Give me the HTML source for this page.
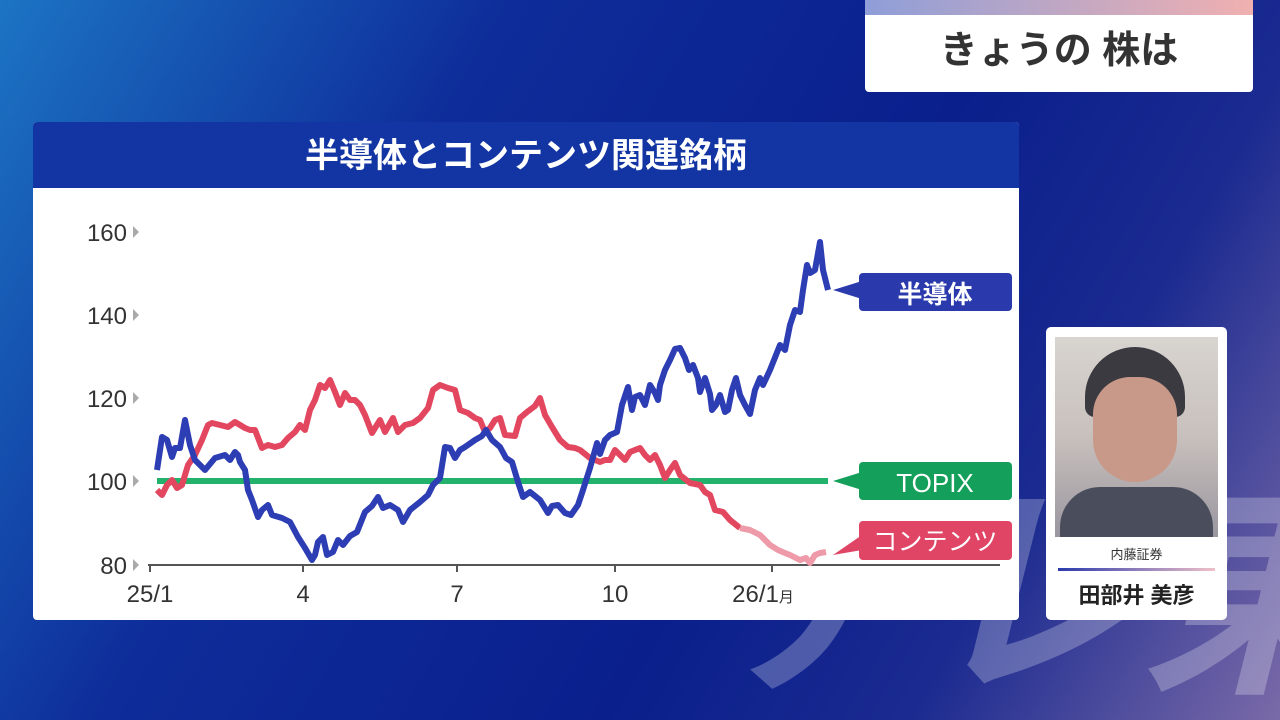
<!DOCTYPE html>
<html><head><meta charset="utf-8"><style>
html,body{margin:0;width:1280px;height:720px;overflow:hidden}
body{position:relative;font-family:"Liberation Sans","Noto Sans CJK JP",sans-serif;
background:linear-gradient(120deg,#1c74c4 0%,#0e2d9a 30%,#0a1f8c 60%,#1a2a90 78%,#7a6aa8 100%);}
.abs{position:absolute}
</style></head><body>
<div class="abs" style="left:700px;top:480px;width:700px;white-space:nowrap;font-size:230px;font-weight:bold;color:rgba(255,255,255,0.25);letter-spacing:-10px;line-height:1;font-style:italic">テレ東</div>
<div class="abs" style="left:865px;top:0;width:388px;height:92px;background:#fff;border-radius:0 0 4px 4px;overflow:hidden">
 <div style="height:15px;background:linear-gradient(90deg,#8e9ed8,#f0b0b0)"></div>
 <div style="text-align:center;font-size:38px;font-weight:bold;color:#333;line-height:72px">きょうの 株は</div>
</div>
<div class="abs" style="left:33px;top:122px;width:986px;height:498px;background:#fff;border-radius:4px;overflow:hidden">
 <div style="height:66px;background:#1235a3;color:#fff;text-align:center;font-size:34px;font-weight:bold;line-height:68px">半導体とコンテンツ関連銘柄</div>
</div>
<svg class="abs" style="left:0;top:0" width="1280" height="720">
 <g font-family="Liberation Sans, sans-serif" font-size="24" fill="#333" text-anchor="end">
  <text x="127" y="241">160</text><text x="127" y="324">140</text><text x="127" y="407">120</text><text x="127" y="490">100</text><text x="127" y="574">80</text>
 </g>
 <g fill="#aaa"><path d="M133,226 l6,6 l-6,6z"/><path d="M133,309 l6,6 l-6,6z"/><path d="M133,392 l6,6 l-6,6z"/><path d="M133,475 l6,6 l-6,6z"/><path d="M133,559 l6,6 l-6,6z"/></g>
 <line x1="148" y1="565" x2="1000" y2="565" stroke="#555" stroke-width="2"/>
 <g stroke="#555" stroke-width="2"><line x1="150" y1="565" x2="150" y2="572"/><line x1="303" y1="565" x2="303" y2="572"/><line x1="457" y1="565" x2="457" y2="572"/><line x1="615" y1="565" x2="615" y2="572"/><line x1="772" y1="565" x2="772" y2="572"/></g>
 <g font-family="Liberation Sans, Noto Sans CJK JP, sans-serif" font-size="24" fill="#333" text-anchor="middle">
  <text x="150" y="602">25/1</text><text x="303" y="602">4</text><text x="457" y="602">7</text><text x="615" y="602">10</text><text x="763" y="602">26/1<tspan font-size="15">月</tspan></text>
 </g>
 <line x1="157" y1="481" x2="828" y2="481" stroke="#23b26b" stroke-width="6"/>
 <polyline fill="none" stroke="#e2475f" stroke-width="6" stroke-linejoin="round" points="157,490 162,495 167,485 172,480 177,488 182,485 188,465 195,455 202,440 208,425 212,423 220,425 228,427 235,422 240,425 245,428 250,430 255,430 262,448 268,445 275,447 282,445 288,438 295,432 300,425 305,430 310,410 315,400 320,385 325,388 330,380 335,392 340,405 345,393 350,400 355,400 360,405 365,415 372,433 380,420 385,432 393,418 398,432 405,425 413,423 420,418 428,408 433,390 440,385 448,388 455,390 460,410 468,413 475,418 480,420 485,432 490,428 495,420 500,418 505,435 515,436 520,418 527,412 535,406 540,398 545,415 552,427 560,440 568,447 575,448 580,450 590,458 600,462 605,460 610,460 615,450 620,455 625,460 630,452 640,448 645,455 650,460 655,455 660,465 665,478 670,470 675,463 680,475 690,483 700,485 705,492 710,495 715,510 723,512 730,520 740,528"/>
 <polyline fill="none" stroke="#ee9aa8" stroke-width="6" stroke-linejoin="round" points="740,528 750,530 760,535 770,545 778,550 785,553 790,555 800,560 806,558 810,563 815,555 820,553 826,552"/>
 <polyline fill="none" stroke="#2d3db3" stroke-width="6" stroke-linejoin="round" points="157,470 162,437 167,440 172,457 175,448 180,448 185,420 190,445 195,460 205,470 215,458 225,455 230,460 235,452 238,455 240,462 245,470 248,490 252,500 258,517 262,510 268,505 272,515 282,518 290,522 298,537 305,548 312,560 315,555 318,542 323,537 327,555 333,552 338,540 343,545 350,536 357,532 365,512 372,506 378,497 383,508 390,505 398,510 403,522 410,510 420,502 428,495 433,485 440,478 445,447 450,448 455,458 460,450 465,447 475,440 482,436 486,430 492,440 500,447 506,458 512,462 518,482 523,497 530,492 535,496 540,500 548,513 552,506 558,505 565,513 571,515 578,505 583,490 590,468 597,443 600,454 605,440 610,435 617,432 622,405 628,387 632,410 635,397 640,395 645,405 650,385 655,393 658,400 660,385 665,370 670,360 675,349 680,348 685,358 689,370 693,365 698,378 700,392 705,378 710,394 712,410 716,405 720,395 725,412 728,410 732,390 736,378 740,395 745,405 750,414 755,390 760,378 763,385 770,370 776,355 780,345 785,350 790,325 795,310 800,312 803,290 807,265 810,273 815,270 820,242 823,270 828,290"/>
 <path d="M833,290 L862,281 L862,299Z" fill="#2a3aad"/>
 <rect x="859" y="273" width="153" height="38" rx="4" fill="#2a3aad"/>
 <text x="935" y="303" fill="#fff" font-size="25" font-weight="bold" text-anchor="middle" font-family="Noto Sans CJK JP, sans-serif">半導体</text>
 <path d="M833,481 L862,472 L862,490Z" fill="#14a05a"/>
 <rect x="859" y="462" width="153" height="38" rx="4" fill="#14a05a"/>
 <text x="935" y="492" fill="#fff" font-size="26" text-anchor="middle" font-family="Liberation Sans, sans-serif">TOPIX</text>
 <path d="M833,555 L862,535 L862,550Z" fill="#e04565"/>
 <rect x="859" y="521" width="153" height="39" rx="4" fill="#e04565"/>
 <text x="935" y="550" fill="#fff" font-size="25" text-anchor="middle" font-family="Noto Sans CJK JP, sans-serif">コンテンツ</text>
</svg>
<div class="abs" style="left:1046px;top:327px;width:181px;height:293px;background:#fff;border-radius:5px">
 <div class="abs" style="left:9px;top:10px;width:163px;height:200px;background:linear-gradient(180deg,#d8d4d0 0%,#c8c0bc 50%,#9a96a0 100%);overflow:hidden">
  <div class="abs" style="left:30px;top:10px;width:100px;height:70px;background:#3a3a40;border-radius:50px 50px 10px 10px"></div>
  <div class="abs" style="left:38px;top:40px;width:84px;height:105px;background:#c89888;border-radius:40px 40px 45px 45px"></div>
  <div class="abs" style="left:5px;top:150px;width:153px;height:60px;background:#4a4e5c;border-radius:40px 40px 0 0"></div>
 </div>
 <div class="abs" style="left:0;top:217px;width:181px;text-align:center;font-size:13px;color:#333">内藤証券</div>
 <div class="abs" style="left:12px;top:241px;width:157px;height:3px;background:linear-gradient(90deg,#2a3aad,#f0c0c8)"></div>
 <div class="abs" style="left:0;top:251px;width:181px;text-align:center;font-size:22px;font-weight:bold;color:#222">田部井 美彦</div>
</div>
</body></html>
